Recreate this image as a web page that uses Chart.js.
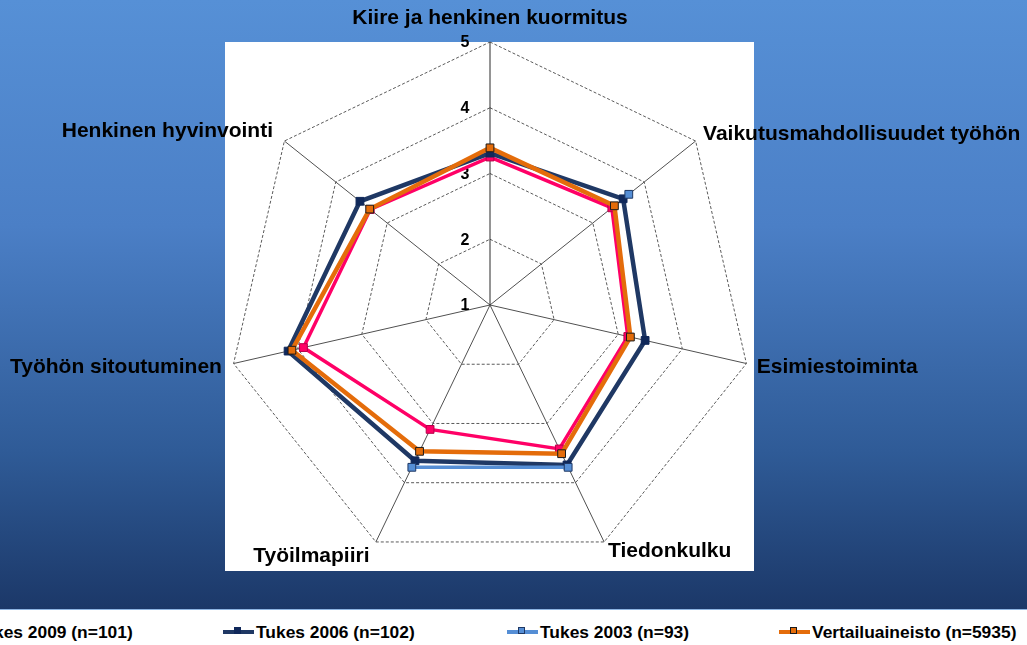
<!DOCTYPE html>
<html>
<head>
<meta charset="utf-8">
<script src="https://cdn.jsdelivr.net/npm/chart.js@4.4.1/dist/chart.umd.min.js"></script>
<style>
html, body { margin: 0; padding: 0; }
body {
  width: 1027px; height: 645px; position: relative; overflow: hidden;
  font-family: "Liberation Sans", Arial, sans-serif;
  background: linear-gradient(to bottom, #5690d6 0%, #4b7fc6 35%, #2f5b97 70%, #1b3767 95%);
}
#plotBg { position: absolute; left: 225px; top: 42px; width: 529px; height: 529px; background: #fff; }
#chart { position: absolute; left: -90px; top: 5px; }
#legend { position: absolute; left: 0; top: 609px; width: 1027px; height: 36px; background: #fff; border-top: 1px solid #8db4e2; }
.item { position: absolute; top: 12px; height: 20px; display: flex; align-items: center; font-weight: bold; font-size: 17.4px; color: #000; white-space: nowrap; }
.mark { position: relative; width: 31px; height: 4px; margin-right: 2px; }
.mark span { position: absolute; left: 11px; top: -3px; width: 7px; height: 7px; box-sizing: border-box; border: 1px solid; }
</style>
</head>
<body>
<div id="plotBg"></div>
<canvas id="chart" width="1160" height="576"></canvas>
<div id="legend"></div>
<script>
const labels = [
  "Kiire ja henkinen kuormitus",
  "Vaikutusmahdollisuudet työhön",
  "Esimiestoiminta",
  "Tiedonkulku",
  "Työilmapiiri",
  "Työhön sitoutuminen",
  "Henkinen hyvinvointi"
];
const seriesNames = ["Tukes 2009 (n=101)", "Tukes 2006 (n=102)", "Tukes 2003 (n=93)", "Vertailuaineisto (n=5935)"];
const tukes2009 = [3.25, 3.37, 3.15, 3.43, 3.10, 3.91, 3.33];
const tukes2006 = [3.31, 3.59, 3.42, 3.70, 3.63, 4.15, 3.53];
const tukes2003 = [null, 3.70, null, 3.74, 3.74, null, null];
const vertailu = [3.39, 3.42, 3.19, 3.51, 3.47, 4.09, 3.34];
const tickValues = [1, 2, 3, 4, 5];

const lineColors = ["#ff0066", "#1f3864", "#558ed5", "#e46c0a"];
const markerFills = ["#ff0066", "#10285a", "#558ed5", "#e46c0a"];
const markerBorders = ["#b8004a", "#10285a", "#1f3864", "#1a1a1a"];
const lineWidths = [3.5, 4.5, 3.5, 4.5];
const legendLeft = [-59, 223, 507, 779];
// etäisyys kulman kärjestä nimiöön, indeksin mukaan
const labelPadding = [22.9, 9.5, 10.6, 9, 14.7, 12, 14.6];

const seriesValues = [tukes2009, tukes2006, tukes2003, vertailu];

const datasets = seriesNames.map((name, i) => ({
  label: name,
  data: seriesValues[i],
  borderColor: lineColors[i],
  borderWidth: lineWidths[i],
  pointStyle: "rect",
  pointRadius: 5.5,
  pointBackgroundColor: markerFills[i],
  pointBorderColor: markerBorders[i],
  pointBorderWidth: 1,
  fill: false,
  spanGaps: false,
  order: seriesNames.length - 1 - i
}));

// asteikon numerot (myös 1 keskellä)
const tickLabelPlugin = {
  id: "tickLabels",
  beforeDatasetsDraw(chart) {
    const scale = chart.scales.r;
    const ctx = chart.ctx;
    ctx.save();
    ctx.font = 'bold 16px "Liberation Sans", Arial, sans-serif';
    ctx.fillStyle = "#000";
    ctx.textAlign = "center";
    ctx.textBaseline = "middle";
    tickValues.forEach(v => {
      const d = scale.getDistanceFromCenterForValue(v);
      ctx.fillText(String(v), scale.xCenter - 25, scale.yCenter - d + 1);
    });
    ctx.restore();
  }
};

new Chart(document.getElementById("chart"), {
  type: "radar",
  data: { labels: labels, datasets: datasets },
  options: {
    responsive: false,
    animation: false,
    layout: { padding: 0 },
    plugins: { legend: { display: false }, tooltip: { enabled: false } },
    elements: { line: { tension: 0 } },
    scales: {
      r: {
        min: 1,
        max: 5,
        ticks: { display: false, stepSize: 1 },
        grid: { color: "#5a5a5a", lineWidth: 1 },
        border: { dash: [3, 2] },
        angleLines: {
          color: ctx => ctx.index === 0 ? "#2a2a2a" : "#505050",
          lineWidth: 1
        },
        pointLabels: {
          color: "#000",
          font: { family: '"Liberation Sans", Arial, sans-serif', size: 21, weight: "bold", lineHeight: 0.1 },
          padding: ctx => labelPadding[ctx.index]
        }
      }
    }
  },
  plugins: [tickLabelPlugin]
});

// selite
const legendDiv = document.getElementById("legend");
seriesNames.forEach((name, i) => {
  const item = document.createElement("div");
  item.className = "item";
  item.style.left = legendLeft[i] + "px";
  item.innerHTML = `<div class="mark" style="background:${lineColors[i]}"><span style="background:${markerFills[i]};border-color:${markerBorders[i]}"></span></div>${name}`;
  legendDiv.appendChild(item);
});
</script>
</body>
</html>
